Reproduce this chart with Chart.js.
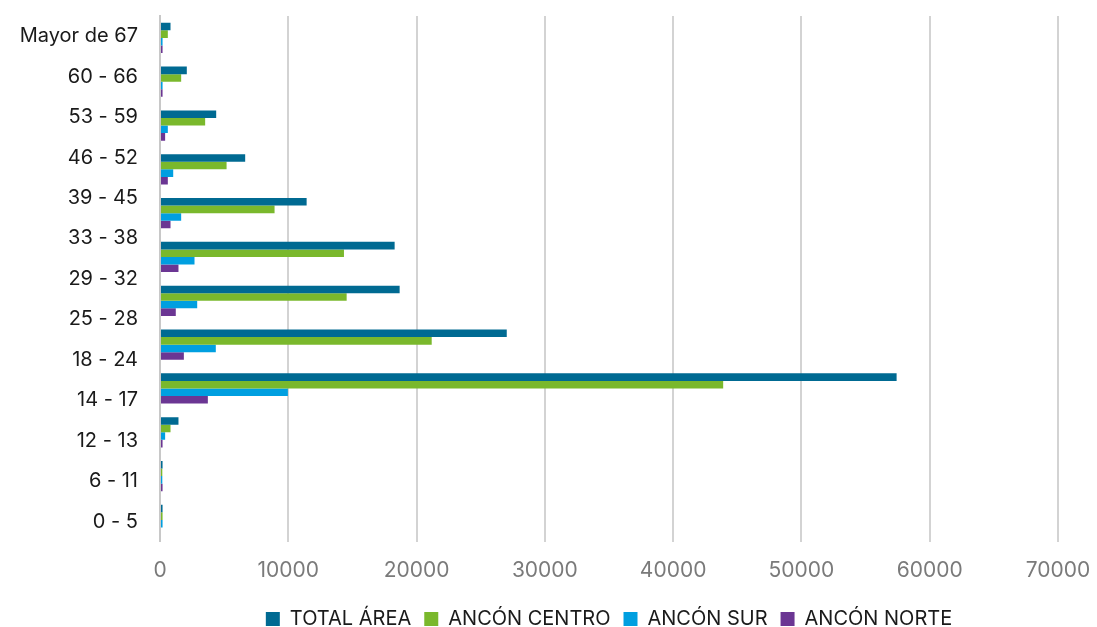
<!DOCTYPE html>
<html>
<head>
<meta charset="utf-8">
<script src="https://cdn.jsdelivr.net/npm/chart.js@4/dist/chart.umd.min.js"></script>
<style>
	html, body { margin: 0; padding: 0; background: #fff; }
	#wrap { width: 1097px; height: 627px; }
</style>
</head>
<body>
<div id="wrap"><canvas id="myChart"></canvas></div>
<script>
// age labels shown on the axis (top to bottom)
const ageLabels = ['Mayor de 67', '60 - 66', '53 - 59', '46 - 52', '39 - 45', '33 - 38', '29 - 32',
	'25 - 28', '18 - 24', '14 - 17', '12 - 13', '6 - 11', '0 - 5'];
// the source chart only has 12 bar groups, laid out on their own band
const groupKeys = ['g1', 'g2', 'g3', 'g4', 'g5', 'g6', 'g7', 'g8', 'g9', 'g10', 'g11', 'g12'];

const totalArea   = [820, 2090, 4380, 6640, 11430, 18290, 18680, 27030, 57420, 1440, 200, 200];
const anconCentro = [610, 1650, 3520, 5190, 8930, 14340, 14550, 21180, 43900, 820, 180, 200];
const anconSur    = [200, 200, 610, 1030, 1650, 2690, 2900, 4350, 9970, 400, 180, 200];
const anconNorte  = [200, 200, 400, 610, 820, 1440, 1230, 1860, 3730, 200, 200, 0];

const xTicks = [0, 10000, 20000, 30000, 40000, 50000, 60000, 70000];

const ctx = document.getElementById('myChart');

function makeSet(label, data, color) {
	return {
		label,
		data,
		yAxisID: 'y2',
		backgroundColor: color,
		borderWidth: 0,
		categoryPercentage: 0.69,
		barPercentage: 1.0
	};
}

// legend sits a bit lower and is centred under the plot area, not the canvas
const legendShift = {
	id: 'legendShift',
	afterInit(chart) {
		const lg = chart.legend;
		const fit = lg.fit;
		lg.fit = function() {
			fit.call(this);
			this.height -= 12;
		};
	},
	afterLayout(chart) {
		chart.legend.left = chart.chartArea.left;
		chart.legend.right = chart.chartArea.right;
	}
};

new Chart(ctx, {
	type: 'bar',
	data: {
		labels: groupKeys,
		datasets: [
			makeSet('TOTAL ÁREA', totalArea, '#006a92'),
			makeSet('ANCÓN CENTRO', anconCentro, '#7ab82c'),
			makeSet('ANCÓN SUR', anconSur, '#009fe0'),
			makeSet('ANCÓN NORTE', anconNorte, '#6b3693')
		]
	},
	plugins: [legendShift],
	options: {
		indexAxis: 'y',
		responsive: true,
		maintainAspectRatio: false,
		animation: false,
		layout: { padding: { top: 16, right: 39, left: 0, bottom: 0 } },
		scales: {
			x: {
				min: 0,
				max: 70000,
				afterBuildTicks: axis => { axis.ticks = xTicks.map(v => ({ value: v })); },
				afterFit: axis => {
					axis.paddingLeft = 0;
					axis.paddingRight = 0;
					axis.height -= 3;
				},
				grid: { color: '#d3d3d3', lineWidth: 2, drawTicks: false },
				border: { display: false },
				ticks: {
					color: '#7a7a7a',
					font: { family: 'Inter', size: 21 },
					padding: 16,
					callback: v => String(v)
				}
			},
			y: {
				type: 'category',
				labels: ageLabels,
				position: 'left',
				offset: true,
				grid: { display: false },
				border: { display: true, color: '#c8c8c8', width: 2 },
				afterFit: axis => {
					axis.width = 160;
					axis.paddingTop = 0;
					axis.paddingBottom = 0;
				},
				ticks: {
					color: '#1a1a1a',
					font: { family: 'Inter', size: 20 },
					padding: 14,
					autoSkip: false
				}
			},
			y2: {
				type: 'category',
				labels: groupKeys,
				display: false,
				offset: true
			}
		},
		plugins: {
			legend: {
				position: 'bottom',
				labels: {
					color: '#1a1a1a',
					font: { family: 'Inter', size: 20 },
					boxWidth: 14,
					boxHeight: 14,
					padding: 13
				}
			},
			tooltip: { enabled: false }
		}
	}
});
</script>
</body>
</html>
